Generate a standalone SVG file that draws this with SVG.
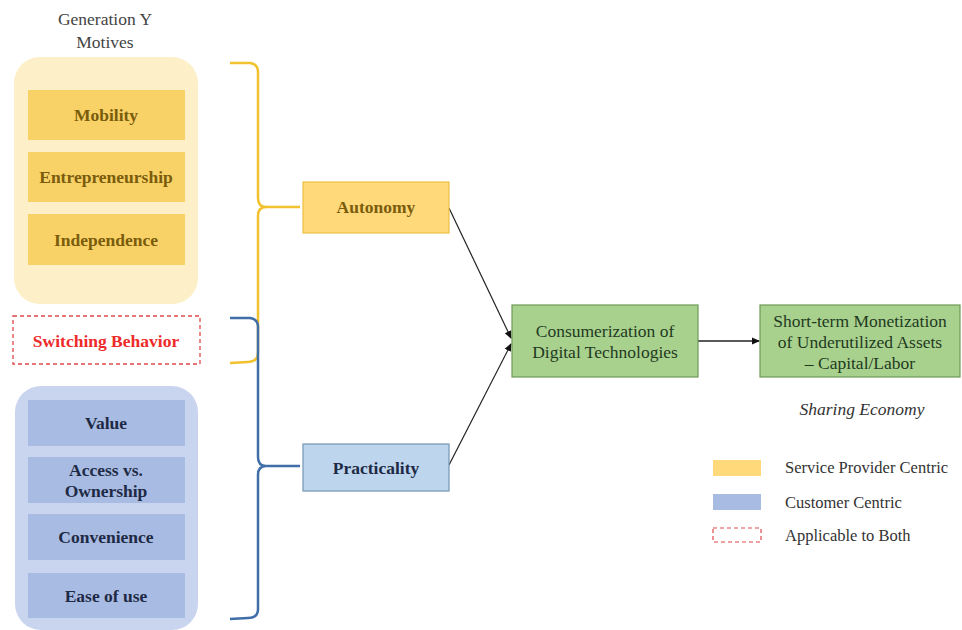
<svg xmlns="http://www.w3.org/2000/svg" width="962" height="630" viewBox="0 0 962 630" font-family="Liberation Serif, Times New Roman, DejaVu Serif, serif">
<style>
text{text-anchor:middle;font-size:17.5px}
.b{font-weight:bold}
.y{fill:#F8D267}
.yt{fill:#7A5C0C}
.bl{fill:#A8BBE3}
.bt{fill:#1E2A44}
.g{fill:#A9D18E;stroke:#6E9A55;stroke-width:1.2}
.gt{fill:#1F3A1F}
.lg{font-size:16.5px;fill:#333;text-anchor:start}
</style>
<defs>
<marker id="ah" markerWidth="8" markerHeight="8" refX="7" refY="4" orient="auto" markerUnits="userSpaceOnUse">
<path d="M0,0.5 L8,4 L0,7.5 Z" fill="#111"/>
</marker>
</defs>
<rect width="962" height="630" fill="#fff"/>
<text x="105" y="25" fill="#444">Generation Y</text>
<text x="105" y="48" fill="#444">Motives</text>

<g id="provider-group">
<rect x="14" y="57" width="184" height="247" rx="26" fill="#FDEFC7"/>
</g>
<g id="mobility"><rect x="28" y="90" width="157" height="50" class="y"/><text x="106" y="121" class="b yt">Mobility</text></g>
<g id="entrepreneurship"><rect x="28" y="152" width="157" height="50" class="y"/><text x="106" y="183" class="b yt">Entrepreneurship</text></g>
<g id="independence"><rect x="28" y="214" width="157" height="51" class="y"/><text x="106" y="246" class="b yt">Independence</text></g>

<g id="switching"><rect x="13" y="316" width="187" height="48" fill="#fff" stroke="#E04848" stroke-width="1.3" stroke-dasharray="4,3"/><text x="106" y="347" class="b" fill="#EE2A2A">Switching Behavior</text></g>

<g id="customer-group">
<rect x="15" y="386" width="183" height="244" rx="26" fill="#C9D5EF"/>
</g>
<g id="value"><rect x="28" y="400" width="157" height="46" class="bl"/><text x="106" y="429" class="b bt">Value</text></g>
<g id="access"><rect x="28" y="457" width="157" height="46" class="bl"/><text x="106" y="476" class="b bt">Access vs.</text><text x="106" y="497" class="b bt">Ownership</text></g>
<g id="convenience"><rect x="28" y="514" width="157" height="46" class="bl"/><text x="106" y="543" class="b bt">Convenience</text></g>
<g id="ease"><rect x="28" y="573" width="157" height="45" class="bl"/><text x="106" y="602" class="b bt">Ease of use</text></g>

<g id="connectors" fill="none">
<path d="M230,63 L250,63 Q258,64 258,72 L258,198 Q258,207 266,207 L300,207 M266,207 Q258,207 258,216 L258,352 Q258,362 248,362 L230,363" stroke="#F2C12E" stroke-width="2.5"/>
<path d="M230,318 L250,318 Q258,319 258,327 L258,457 Q258,466 266,466 L300,466 M266,466 Q258,466 258,475 L258,609 Q258,618 248,618 L230,619" stroke="#3F6EA8" stroke-width="2.5"/>
<line x1="449" y1="208" x2="511" y2="338" stroke="#222" stroke-width="1.2" marker-end="url(#ah)"/>
<line x1="449" y1="465" x2="511" y2="344" stroke="#222" stroke-width="1.2" marker-end="url(#ah)"/>
<line x1="698" y1="341" x2="759" y2="341" stroke="#222" stroke-width="1.5" marker-end="url(#ah)"/>
</g>

<g id="autonomy"><rect x="303" y="182" width="146" height="51" fill="#FFD97A" stroke="#EDBE45" stroke-width="1.2"/><text x="376" y="213" class="b yt">Autonomy</text></g>
<g id="practicality"><rect x="303" y="444" width="146" height="47" fill="#BDD6EE" stroke="#7393B3" stroke-width="1.2"/><text x="376" y="474" class="b bt">Practicality</text></g>

<g id="consumerization"><rect x="512" y="305" width="186" height="72" class="g"/><text x="605" y="337" class="gt">Consumerization of</text><text x="605" y="358" class="gt">Digital Technologies</text></g>
<g id="monetization"><rect x="760" y="305" width="200" height="72" class="g"/><text x="860" y="327" class="gt">Short-term Monetization</text><text x="860" y="348" class="gt">of Underutilized Assets</text><text x="860" y="369" class="gt">– Capital/Labor</text></g>

<text x="862" y="415" font-style="italic" fill="#333">Sharing Economy</text>

<g id="legend">
<rect x="713" y="460" width="48" height="16" fill="#FFD97A"/>
<text x="785" y="473" class="lg">Service Provider Centric</text>
<rect x="713" y="494" width="48" height="16" fill="#A8BBE3"/>
<text x="785" y="508" class="lg">Customer Centric</text>
<rect x="713" y="528" width="48" height="14" fill="none" stroke="#E04848" stroke-width="1.2" stroke-dasharray="4,3"/>
<text x="785" y="541" class="lg">Applicable to Both</text>
</g>
</svg>
